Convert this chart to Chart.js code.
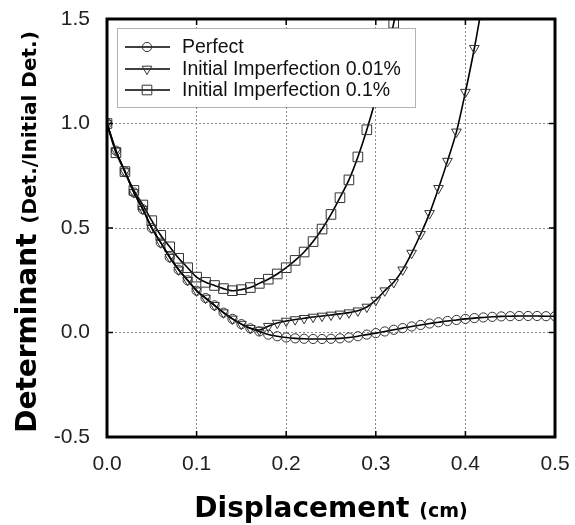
<!DOCTYPE html>
<html>
<head>
<meta charset="utf-8">
<script src="https://cdn.jsdelivr.net/npm/chart.js@4/dist/chart.umd.min.js"></script>
<style>
  html, body { margin: 0; padding: 0; background: #fff; }
  #wrap { width: 575px; height: 525px; }
</style>
</head>
<body>
<div id="wrap"><canvas id="c" width="575" height="525"></canvas></div>
<script>
// ---- Data ----
const displacement = [0.00,0.01,0.02,0.03,0.04,0.05,0.06,0.07,0.08,0.09,
  0.10,0.11,0.12,0.13,0.14,0.15,0.16,0.17,0.18,0.19,
  0.20,0.21,0.22,0.23,0.24,0.25,0.26,0.27,0.28,0.29,
  0.30,0.31,0.32,0.33,0.34,0.35,0.36,0.37,0.38,0.39,
  0.40,0.41,0.42,0.43,0.44,0.45,0.46,0.47,0.48,0.49,0.50];

const perfect = [1.00,0.87,0.77,0.67,0.59,0.50,0.43,0.36,0.30,0.25,
  0.20,0.165,0.13,0.095,0.065,0.04,0.02,0.005,-0.01,-0.018,
  -0.024,-0.028,-0.03,-0.031,-0.031,-0.03,-0.028,-0.024,-0.018,-0.01,
  -0.003,0.005,0.013,0.021,0.029,0.036,0.043,0.049,0.055,0.06,
  0.065,0.069,0.072,0.075,0.077,0.078,0.079,0.079,0.079,0.078,0.078];

const imperfection001 = [1.00,0.87,0.77,0.67,0.59,0.50,0.43,0.36,0.30,0.25,
  0.20,0.165,0.13,0.095,0.065,0.04,0.02,0.012,0.03,0.045,
  0.055,0.062,0.068,0.074,0.079,0.084,0.089,0.095,0.104,0.122,
  0.155,0.20,0.24,0.30,0.38,0.47,0.57,0.69,0.82,0.96,
  1.15,1.36,1.60];

const imperfection01 = [1.00,0.86,0.77,0.68,0.61,0.535,0.465,0.41,0.355,0.31,
  0.265,0.24,0.225,0.21,0.20,0.205,0.215,0.235,0.255,0.28,
  0.31,0.345,0.385,0.435,0.495,0.565,0.645,0.73,0.84,0.97,
  1.12,1.29,1.48,1.70];

const seriesNames = ['Perfect', 'Initial Imperfection 0.01%', 'Initial Imperfection 0.1%'];
const xTicks = [0.0, 0.1, 0.2, 0.3, 0.4, 0.5];
const yTicks = [-0.5, 0.0, 0.5, 1.0, 1.5];

// ---- Build datasets ----
function pts(ys) { return ys.map((y, i) => ({ x: displacement[i], y: y })); }

const markerColor = '#333';
const styles = [
  { pointStyle: 'circle', radius: 4.6, rotation: 0 },
  { pointStyle: 'triangle', radius: 5.6, rotation: 180 },
  { pointStyle: 'rect', radius: 6.8, rotation: 0 }
];

function ds(label, ys, st, order) {
  return {
    label: label,
    data: pts(ys),
    showLine: true,
    borderColor: '#000',
    borderWidth: 1.6,
    tension: 0.3,
    pointStyle: st.pointStyle,
    pointRadius: st.radius,
    pointRotation: st.rotation,
    pointBorderColor: markerColor,
    pointBorderWidth: 1,
    pointBackgroundColor: 'rgba(0,0,0,0)',
    order: order
  };
}

const datasets = [
  ds(seriesNames[0], perfect, styles[0], 1),
  ds(seriesNames[1], imperfection001, styles[1], 2),
  ds(seriesNames[2], imperfection01, styles[2], 3)
];

function drawMarker(ctx, st, x, y) {
  ctx.save();
  ctx.strokeStyle = markerColor;
  ctx.lineWidth = 1;
  ctx.fillStyle = 'rgba(0,0,0,0)';
  if (Chart.helpers && Chart.helpers.drawPoint) {
    Chart.helpers.drawPoint(ctx, { pointStyle: st.pointStyle, radius: st.radius, rotation: st.rotation, borderWidth: 1 }, x, y);
  } else {
    ctx.beginPath();
    ctx.arc(x, y, st.radius, 0, Math.PI * 2);
    ctx.stroke();
  }
  ctx.restore();
}

// ---- Plugin: frame, inner ticks, legend box, axis titles ----
const decor = {
  id: 'decor',
  afterDatasetsDraw(chart) {
    const ctx = chart.ctx;
    const a = chart.chartArea;
    const xs = chart.scales.x, ys = chart.scales.y;
    ctx.save();
    // inner tick marks
    ctx.strokeStyle = '#000';
    ctx.lineWidth = 1.5;
    const tl = 6;
    xTicks.forEach(v => {
      const px = xs.getPixelForValue(v);
      ctx.beginPath();
      ctx.moveTo(px, a.bottom); ctx.lineTo(px, a.bottom - tl);
      ctx.moveTo(px, a.top); ctx.lineTo(px, a.top + tl);
      ctx.stroke();
    });
    yTicks.forEach(v => {
      const py = ys.getPixelForValue(v);
      ctx.beginPath();
      ctx.moveTo(a.left, py); ctx.lineTo(a.left + tl, py);
      ctx.moveTo(a.right, py); ctx.lineTo(a.right - tl, py);
      ctx.stroke();
    });
    // frame
    ctx.lineWidth = 3;
    ctx.strokeStyle = '#000';
    ctx.strokeRect(a.left, a.top, a.right - a.left, a.bottom - a.top);

    // legend box
    const lx = a.left + 10, ly = a.top + 9, lw = 298, lh = 79;
    ctx.fillStyle = '#fff';
    ctx.fillRect(lx, ly, lw, lh);
    ctx.setLineDash([1, 1]);
    ctx.lineWidth = 1;
    ctx.strokeStyle = '#666';
    ctx.strokeRect(lx + 0.5, ly + 0.5, lw, lh);
    ctx.setLineDash([]);
    const rows = [ly + 19, ly + 41, ly + 62];
    ctx.font = '19.5px "Liberation Sans", Arial, sans-serif';
    ctx.textBaseline = 'middle';
    ctx.textAlign = 'left';
    seriesNames.forEach((name, i) => {
      const y = rows[i];
      ctx.strokeStyle = '#000';
      ctx.lineWidth = 1.5;
      ctx.beginPath();
      ctx.moveTo(lx + 8, y); ctx.lineTo(lx + 53, y);
      ctx.stroke();
      drawMarker(ctx, styles[i], lx + 30, y);
      ctx.fillStyle = '#111';
      ctx.fillText(name, lx + 65, y + 1);
    });
    ctx.restore();
  },
  afterDraw(chart) {
    const ctx = chart.ctx;
    const a = chart.chartArea;
    ctx.save();
    ctx.fillStyle = '#000';
    ctx.textBaseline = 'alphabetic';
    ctx.textAlign = 'left';
    // x title
    const big = 'bold 28px "DejaVu Sans", sans-serif';
    const small = 'bold 19px "DejaVu Sans", sans-serif';
    ctx.font = big;
    const t1 = 'Displacement';
    const w1 = ctx.measureText(t1 + ' ').width;
    ctx.font = small;
    const t2 = '(cm)';
    const w2 = ctx.measureText(t2).width;
    const cx = (a.left + a.right) / 2;
    let sx = cx - (w1 + w2) / 2;
    ctx.font = big; ctx.fillText(t1, sx, 517);
    ctx.font = small; ctx.fillText(t2, sx + w1, 517);

    // y title (rotated)
    const y1 = 'Determinant';
    const y2 = '(Det./Initial Det.)';
    const smallY = 'bold 20px "DejaVu Sans", sans-serif';
    ctx.font = big;
    const wy1 = ctx.measureText(y1 + ' ').width;
    ctx.font = smallY;
    const wy2 = ctx.measureText(y2).width;
    const cy = 232;
    ctx.translate(36, cy);
    ctx.rotate(-Math.PI / 2);
    const sy = -(wy1 + wy2) / 2;
    ctx.font = big; ctx.fillText(y1, sy, 0);
    ctx.font = smallY; ctx.fillText(y2, sy + wy1, 0);
    ctx.restore();
  }
};

new Chart(document.getElementById('c'), {
  type: 'scatter',
  data: { datasets: datasets },
  options: {
    responsive: false,
    animation: false,
    devicePixelRatio: 1,
    layout: { padding: { top: 19, right: 20, left: 0, bottom: 0 } },
    plugins: { legend: { display: false }, tooltip: { enabled: false } },
    scales: {
      x: {
        type: 'linear',
        min: 0, max: 0.5,
        afterFit(s) { s.height = 88; s.paddingLeft = 0; s.paddingRight = 0; },
        afterBuildTicks(s) { s.ticks = xTicks.map(v => ({ value: v })); },
        ticks: {
          padding: 15,
          color: '#222',
          font: { family: '"Liberation Sans", Arial, sans-serif', size: 21 },
          callback: v => Number(v).toFixed(1)
        },
        grid: { color: '#8a8a8a', lineWidth: 1, drawTicks: false },
        border: { display: false, dash: [2, 2] }
      },
      y: {
        type: 'linear',
        min: -0.5, max: 1.5,
        afterFit(s) { s.width = 107; s.paddingTop = 0; s.paddingBottom = 0; },
        afterBuildTicks(s) { s.ticks = yTicks.map(v => ({ value: v })); },
        ticks: {
          padding: 17,
          color: '#222',
          font: { family: '"Liberation Sans", Arial, sans-serif', size: 21 },
          callback: v => Number(v).toFixed(1)
        },
        grid: { color: '#8a8a8a', lineWidth: 1, drawTicks: false },
        border: { display: false, dash: [2, 2] }
      }
    }
  },
  plugins: [decor]
});
</script>
</body>
</html>
